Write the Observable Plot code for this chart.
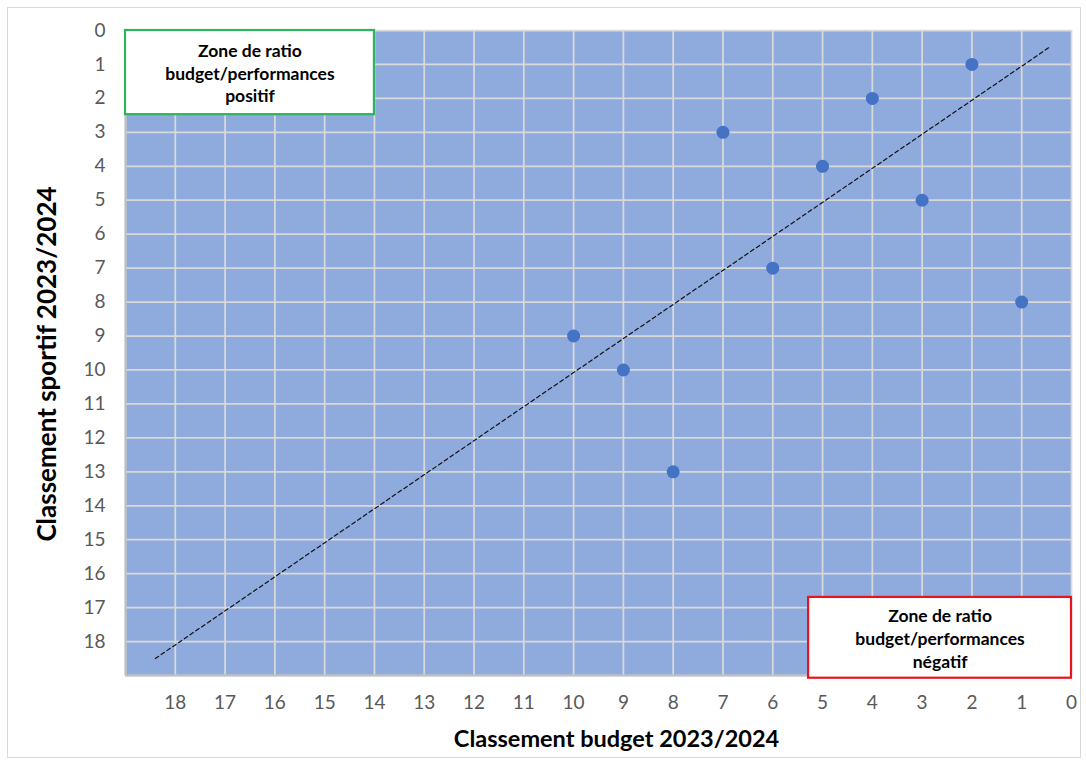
<!DOCTYPE html>
<html><head><meta charset="utf-8">
<script src="https://cdn.jsdelivr.net/npm/d3@7"></script>
<script src="https://cdn.jsdelivr.net/npm/@observablehq/plot@0.6"></script>
<style>
body{margin:0;background:#fff;}
#wrap{position:relative;width:1086px;height:765px;}
#border{position:absolute;left:7px;top:7px;width:1074px;height:751px;border:1.5px solid #d9d9d9;box-sizing:border-box;}
#chart{position:absolute;left:0;top:0;}
</style></head>
<body><div id="wrap"><div id="border"></div><div id="chart"></div></div>
<script>
// Data
const budgetRank = [2, 4, 7, 5, 3, 6, 1, 10, 9, 8];
const sportRank  = [1, 2, 3, 4, 5, 7, 8, 9, 10, 13];
const xTicks = d3.range(0, 19);
const yTicks = d3.range(0, 19);
const gridVals = d3.range(0, 20);
const diagonal = [{x: 18.4, y: 18.5}, {x: 0.45, y: 0.5}];
const zones = [
  {x1: 19, x2: 14, y1: 0, y2: 2.48, label: "Zone de ratio\nbudget/performances\npositif", color: "#2db45c"},
  {x1: 5.28, x2: 0, y1: 16.7, y2: 19.08, label: "Zone de ratio\nbudget/performances\nnégatif", color: "#e8131b"}
];
const xTitle = "Classement budget 2023/2024";
const yTitle = "Classement sportif 2023/2024";

const points = budgetRank.map((b, i) => ({budget: b, sport: sportRank[i]}));
const font = "Lato, 'Open Sans', sans-serif";

const plot = Plot.plot({
  width: 1086, height: 765,
  marginLeft: 125, marginRight: 15, marginTop: 30, marginBottom: 90,
  style: {fontFamily: font, background: "transparent", overflow: "visible"},
  x: {domain: [19, 0]},
  y: {domain: [0, 19], reverse: true},
  marks: [
    Plot.frame({fill: "#8faadc", stroke: null}),
    Plot.gridX(gridVals, {stroke: "#d9d9d9", strokeOpacity: 1, strokeWidth: 1.75}),
    Plot.gridY(gridVals, {stroke: "#d9d9d9", strokeOpacity: 1, strokeWidth: 1.75}),
    Plot.ruleX([19], {stroke: "#bfbfbf", strokeWidth: 2}),
    Plot.ruleY([19], {stroke: "#bfbfbf", strokeWidth: 2}),
    Plot.axisX(xTicks, {tickSize: 0, tickPadding: 20, fontSize: 19, color: "#595959", label: null}),
    Plot.axisY(yTicks, {tickSize: 0, tickPadding: 20, fontSize: 19, color: "#595959", label: null}),
    Plot.line(diagonal, {x: "x", y: "y", stroke: "#111", strokeWidth: 1.2, strokeDasharray: "4,3"}),
    Plot.dot(points, {x: "budget", y: "sport", r: 6.5, fill: "#4472c4", stroke: null}),
    Plot.rect(zones, {x1: "x1", x2: "x2", y1: "y1", y2: "y2", fill: "#fff", stroke: "color", strokeWidth: 2.2}),
    Plot.text(zones, {x: d => (d.x1 + d.x2) / 2, y: d => (d.y1 + d.y2) / 2, text: "label", fontSize: 17.5, fontWeight: "bold", fill: "#000", lineHeight: 1.29}),
    Plot.text([xTitle], {frameAnchor: "bottom", textAnchor: "middle", dx: 18, dy: 71, fontSize: 23.5, fontWeight: "bold", fill: "#000"}),
    Plot.text([yTitle], {frameAnchor: "left", textAnchor: "middle", dx: -78, dy: 11, rotate: -90, fontSize: 26, fontWeight: "bold", fill: "#000"})
  ]
});
document.getElementById("chart").appendChild(plot);
</script></body></html>
